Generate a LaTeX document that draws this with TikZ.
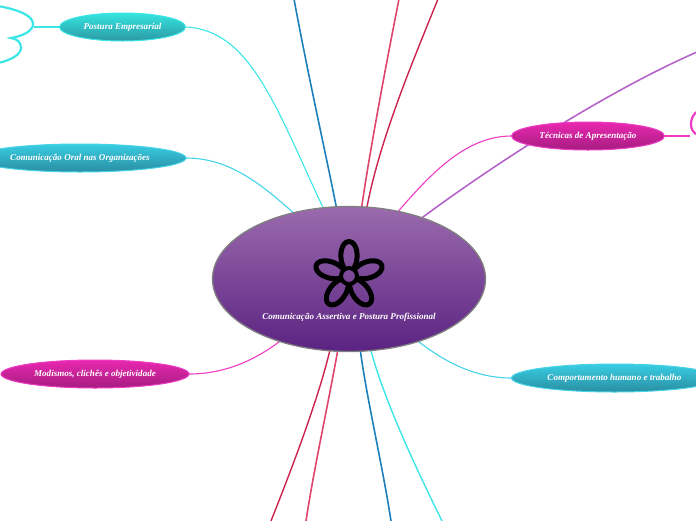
\documentclass[tikz,border=0pt]{standalone}
\usepackage{fontspec}
\setmainfont{Liberation Serif}
\usetikzlibrary{shapes.geometric,backgrounds}
\definecolor{cya}{HTML}{3CE6E6}
\definecolor{cyb}{HTML}{45D3E8}
\definecolor{mag}{HTML}{EE3CC4}
\definecolor{purp}{HTML}{B565C8}
\definecolor{blu}{HTML}{1B80BD}
\definecolor{pnk}{HTML}{E0456E}
\definecolor{crim}{HTML}{CC2450}
\definecolor{teala}{HTML}{35E5E0}
\definecolor{tealb}{HTML}{2B98A4}
\definecolor{skya}{HTML}{38CDE3}
\definecolor{skyb}{HTML}{2A8EA2}
\definecolor{maga}{HTML}{E928B0}
\definecolor{magb}{HTML}{A61C80}
\definecolor{vioa}{HTML}{9A6BAD}
\definecolor{viob}{HTML}{5B2382}
\tikzset{
  labelfont/.style={font=\fontsize{9.05}{10}\selectfont\bfseries\itshape,text=white},
  topic/.style={ellipse,inner sep=0pt,outer sep=0pt,line width=1pt,labelfont,minimum height=28pt},
  tealtopic/.style={topic,draw=cya,top color=teala,bottom color=tealb},
  skytopic/.style={topic,draw=cyb,top color=skya,bottom color=skyb},
  magtopic/.style={topic,draw=mag,top color=maga,bottom color=magb},
  thin link/.style={line width=1.1pt,line cap=round},
  main link/.style={line width=1.6pt,line cap=round},
  stub/.style={line width=2.6pt},
  petal/.style={draw=black,line width=5pt,line join=round}
}
\begin{document}
\begin{tikzpicture}[x=1pt,y=-1pt]
\useasboundingbox (0,0) rectangle (696,520);
\node[ellipse,inner sep=0pt,outer sep=0pt,minimum width=273pt,minimum height=145pt,draw=black!50,line width=1.3pt,top color=vioa,bottom color=viob] (central) at (349,279) {};
\node[tealtopic,minimum width=126pt] (postura) at (122.5,27) {Postura Empresarial};
\node[skytopic,minimum width=212pt] (oral) at (80,158) {Comunicação Oral nas Organizações};
\node[magtopic,minimum width=153pt] (tecnicas) at (588,136) {Técnicas de Apresentação};
\node[magtopic,minimum width=188pt] (modismos) at (95,374) {Modismos, clichês e objetividade};
\node[skytopic,minimum width=206pt] (comport) at (614.5,378) {Comportamento humano e trabalho};
\node[labelfont,inner sep=0pt] (centraltext) at (349,317) {Comunicação Assertiva e Postura Profissional};
\coordinate (tblue) at (294,-1);
\coordinate (tpink) at (399,-1);
\coordinate (tcrim) at (438,-1);
\coordinate (tpurp) at (697,52);
\coordinate (bcrim) at (271,521);
\coordinate (bpink) at (306,521);
\coordinate (bblue) at (391,521);
\coordinate (bcyan) at (442,521);
\coordinate (stubl) at (34,27);
\coordinate (stubr) at (690,136);
\begin{scope}[on background layer]
\draw[thin link,cya] (postura.east) .. controls (250,30) and (275,105) .. (central.110);
\draw[thin link,cyb] (oral.east) .. controls (230,158) and (262,185) .. (central.130.4);
\draw[thin link,mag] (tecnicas.west) .. controls (465,136) and (430,175) .. (central.54.8);
\draw[thin link,mag] (modismos.east) .. controls (225,374) and (255,360) .. (central.222.8);
\draw[thin link,cyb] (comport.west) .. controls (475,378) and (445,362) .. (central.-42.8);
\draw[main link,blu] (tblue) .. controls (308,75) and (325,150) .. (central.100);
\draw[main link,pnk] (tpink) .. controls (385,70) and (370,150) .. (central.80.5);
\draw[main link,crim,line width=1.4pt] (tcrim) .. controls (410,68) and (380,140) .. (central.76);
\draw[main link,purp] (tpurp) .. controls (610,90) and (500,160) .. (central.40.3);
\draw[main link,crim,line width=1.4pt] (bcrim) .. controls (292,468) and (318,400) .. (central.255);
\draw[main link,pnk] (bpink) .. controls (314,468) and (329,400) .. (central.261);
\draw[main link,blu] (bblue) .. controls (383,468) and (367,400) .. (central.279);
\draw[main link,cya,line width=1.4pt] (bcyan) .. controls (417,470) and (386,405) .. (central.287);
\draw[stub,cya] (postura.west) -- (stubl);
\draw[stub,mag] (tecnicas.east) -- (stubr);
\end{scope}
\draw[stub,cya,line width=2.2pt] (-2,6) .. controls (20,10) and (33,16) .. (33,24) .. controls (33,31) and (23,36) .. (11,38) .. controls (18,39) and (21,43) .. (21,48) .. controls (21,54) and (12,60) .. (-2,63);
\draw[stub,mag,line width=2.2pt] (698,111) .. controls (693,114) and (691,119) .. (691,124) .. controls (691,129) and (693,133) .. (698,135);
\foreach \a in {0,72,144,216,288}{
  \begin{scope}[shift={(349,276)},rotate=\a]
    \draw[petal] (-5,-8) .. controls (-11,-18) and (-8,-34.5) .. (0,-34.5) .. controls (8,-34.5) and (11,-18) .. (5,-8);
  \end{scope}
}
\draw[petal,line width=4pt] (349,276) circle[radius=8pt];
\end{tikzpicture}
\end{document}
